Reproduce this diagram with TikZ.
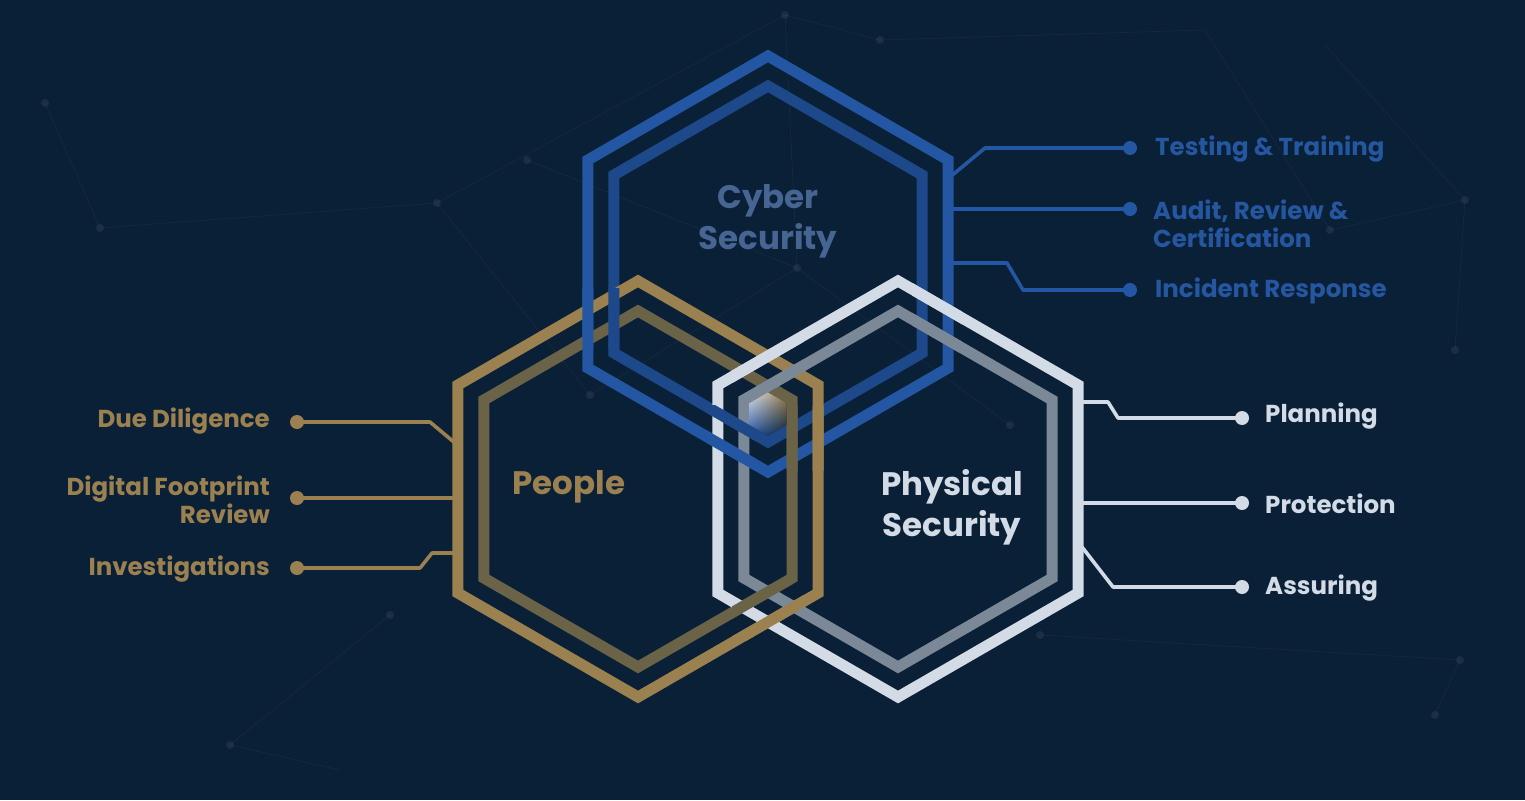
\documentclass[tikz,border=0pt]{standalone}
\usepackage{fontspec}
\setmainfont{Poppins}
\usetikzlibrary{shadings}
\definecolor{bg}{HTML}{0A2036}
\definecolor{bluO}{HTML}{2457A3}
\definecolor{bluI}{HTML}{1D4889}
\definecolor{gldO}{HTML}{9B8150}
\definecolor{gldI}{HTML}{6A6347}
\definecolor{whtO}{HTML}{D3DBE6}
\definecolor{whtI}{HTML}{7B8898}
\definecolor{cybT}{HTML}{466592}
\definecolor{bluT}{HTML}{2556A0}
\newcommand{\hexp}[2]{([shift={(#1)}]90:#2) -- ([shift={(#1)}]30:#2) -- ([shift={(#1)}]-30:#2) -- ([shift={(#1)}]-90:#2) -- ([shift={(#1)}]-150:#2) -- ([shift={(#1)}]150:#2) -- cycle}
\tikzset{
  hexline/.style={line width=11pt, line join=miter},
  conn/.style={line width=3.6pt, line join=round},
  dotnode/.style={circle, fill=#1, inner sep=0pt, minimum size=14pt},
  itemL/.style={font=\bfseries\fontsize{24.5}{28}\selectfont, text=#1, anchor=east, align=right, inner sep=0pt},
  itemR/.style={font=\bfseries\fontsize{24.5}{28}\selectfont, text=#1, anchor=west, align=left, inner sep=0pt},
  hexlabel/.style={font=\bfseries\fontsize{32.5}{41}\selectfont, align=center, text=#1, inner sep=0pt},
  netline/.style={line width=0.7pt, draw=white, opacity=0.045},
  netdot/.style={fill=white, opacity=0.07}
}
\begin{document}
\begin{tikzpicture}[x=1pt,y=-1pt]
\fill[bg] (0,0) rectangle (1525,800);
\useasboundingbox (0,0) rectangle (1525,800);
% faint background network
\foreach \xa/\ya/\xb/\yb in {785/15/437/203, 785/15/797/268, 785/15/880/40, 880/40/1205/30, 527/160/797/268, 437/203/590/395, 797/268/1010/425, 1330/230/1465/200, 1465/200/1455/350, 1325/45/1465/200, 45/103/100/228, 100/228/437/203, 390/615/230/745, 230/745/340/770, 1460/660/1435/715, 1040/635/1460/660, 590/395/797/268, 1330/230/1205/30}
  \draw[netline] (\xa,\ya) -- (\xb,\yb);
\foreach \xa/\ya in {785/15, 880/40, 45/103, 100/228, 437/203, 527/160, 797/268, 1330/230, 1465/200, 1455/350, 1010/425, 590/395, 390/615, 1460/660, 1435/715, 230/745, 1040/635}
  \fill[netdot] (\xa,\ya) circle (4);
% hexagon centres
\coordinate (cB) at (768,264);
\coordinate (cG) at (638,489);
\coordinate (cW) at (898,489);
% ---------- connectors: cyber (blue)
\coordinate (bS1) at (950,177);
\coordinate (bS2) at (950,209);
\coordinate (bS3) at (950,263);
\node[dotnode=bluO] (dT) at (1130,148) {};
\node[dotnode=bluO] (dA) at (1130,209) {};
\node[dotnode=bluO] (dI) at (1130,290) {};
\draw[conn, bluO] (bS1) -- (985,148) -- (dT.center);
\draw[conn, bluO] (bS2) -- (dA.center);
\draw[conn, bluO] (bS3) -- (1007,263) -- (1023,290) -- (dI.center);
\node[itemR=bluT] (tT) at (1155,149) {Testing \& Training};
\node[itemR=bluT] (tA) at (1153,224) {Audit, Review \&\\Certification};
\node[itemR=bluT] (tI) at (1155,291) {Incident Response};
% ---------- connectors: people (gold)
\coordinate (gS1) at (455,443);
\coordinate (gS2) at (455,498);
\coordinate (gS3) at (455,553);
\node[dotnode=gldO] (dD) at (297,422) {};
\node[dotnode=gldO] (dF) at (297,498) {};
\node[dotnode=gldO] (dV) at (297,568) {};
\draw[conn, gldO] (dD.center) -- (430,422) -- (gS1);
\draw[conn, gldO] (dF.center) -- (gS2);
\draw[conn, gldO] (dV.center) -- (420,568) -- (432,553) -- (gS3);
\node[itemL=gldO] (tD) at (270,421) {Due Diligence};
\node[itemL=gldO] (tF) at (270,500) {Digital Footprint\\Review};
\node[itemL=gldO] (tV) at (270,569) {Investigations};
% ---------- connectors: physical (white)
\coordinate (wS1) at (1080,402);
\coordinate (wS2) at (1080,503);
\coordinate (wS3) at (1082,547);
\node[dotnode=whtO] (dP) at (1242,418) {};
\node[dotnode=whtO] (dR) at (1242,503) {};
\node[dotnode=whtO] (dS) at (1242,587) {};
\draw[conn, whtO] (wS1) -- (1108,402) -- (1118,418) -- (dP.center);
\draw[conn, whtO] (wS2) -- (dR.center);
\draw[conn, whtO] (wS3) -- (1113,587) -- (dS.center);
\node[itemR=whtO] (tP) at (1265,416) {Planning};
\node[itemR=whtO] (tR) at (1265,504) {Protection};
\node[itemR=whtO] (tS) at (1265,588) {Assuring};
% ---------- hexagons (base)
\draw[hexline, bluO] \hexp{cB}{208};
\draw[hexline, bluI] \hexp{cB}{178};
\draw[hexline, gldO] \hexp{cG}{208};
\draw[hexline, gldI] \hexp{cG}{178};
\draw[hexline, whtO] \hexp{cW}{208};
\draw[hexline, whtI] \hexp{cW}{178};
% ---------- weaving overlays
% blue over gold (left)
\begin{scope}
  \clip (572,288) rectangle (630,348);
  \draw[hexline, bluO] \hexp{cB}{208};
  \draw[hexline, bluI] \hexp{cB}{178};
\end{scope}
% gold over blue (centre right)
\begin{scope}
  \clip (782,406) rectangle (830,470);
  \draw[hexline, gldO] \hexp{cG}{208};
  \draw[hexline, gldI] \hexp{cG}{178};
\end{scope}
% blue over white (centre left)
\begin{scope}
  \clip (706,405) rectangle (756,470);
  \draw[hexline, bluO] \hexp{cB}{208};
  \draw[hexline, bluI] \hexp{cB}{178};
\end{scope}
% white over blue (right)
\begin{scope}
  \clip (912,283) rectangle (962,352);
  \draw[hexline, whtO] \hexp{cW}{208};
  \draw[hexline, whtI] \hexp{cW}{178};
\end{scope}
% white over gold (top centre)
\begin{scope}
  \clip (732,340) rectangle (804,396);
  \draw[hexline, whtO] \hexp{cW}{208};
  \draw[hexline, whtI] \hexp{cW}{178};
\end{scope}
% gold over white (bottom centre)
\begin{scope}
  \clip (732,584) rectangle (804,640);
  \draw[hexline, gldO] \hexp{cG}{208};
  \draw[hexline, gldI] \hexp{cG}{178};
\end{scope}
% centre highlight
\shade[upper left=whtO!80!white, upper right=gldO, lower left=bluO, lower right=bg]
  (768,392.4) -- (786.7,403.2) -- (786.7,424.8) -- (768,435.6) -- (749.3,424.8) -- (749.3,403.2) -- cycle;
% ---------- hexagon labels
\node[hexlabel=cybT] (tCy) at (768,221) {Cyber\\Security};
\node[hexlabel=gldO] (tPe) at (569,487) {People};
\node[hexlabel=whtO] (tPh) at (952,507) {Physical\\Security};
\end{tikzpicture}
\end{document}
